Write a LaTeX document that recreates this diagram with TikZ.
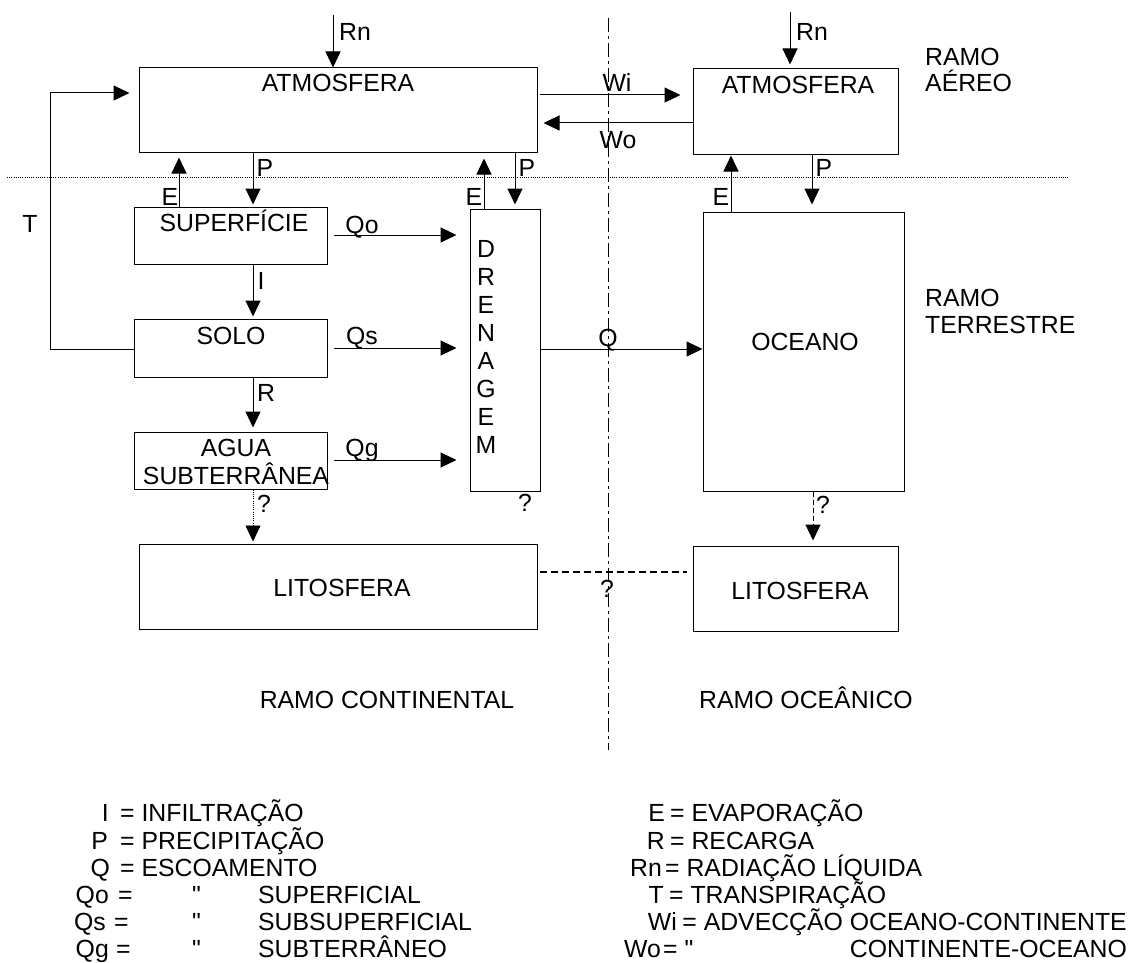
\documentclass[tikz,border=0pt]{standalone}
\usepackage{fontspec}
\setmainfont{Liberation Sans}[Ligatures=TeXOff]
\usetikzlibrary{arrows.meta}
\newcommand\fsz{\fontsize{24.8}{28}\selectfont}
\begin{document}
\begin{tikzpicture}[x=1pt,y=-1pt,
  box/.style={draw, line width=1pt, inner sep=0pt},
  t/.style={inner sep=0pt, anchor=base, font=\fsz},
  tw/.style={inner sep=0pt, anchor=base west, font=\fsz},
  te/.style={inner sep=0pt, anchor=base east, font=\fsz},
  ln/.style={line width=1pt},
  arr/.style={line width=1pt, -{Triangle[length=16pt,width=15pt]}},
  dotline/.style={line width=0.8pt, dash pattern=on 1pt off 1.2pt},
  dashline/.style={line width=1.2pt, dash pattern=on 7pt off 4pt},
  shortdash/.style={line width=1pt, dash pattern=on 5pt off 3pt},
  dashdot/.style={line width=1pt, dash pattern=on 14pt off 4pt on 3pt off 4pt}]
\useasboundingbox (0,0) rectangle (1129,963);

% boxes
\node[box, minimum width=398pt, minimum height=84pt] (atm1) at (338,110) {};
\node[box, minimum width=205pt, minimum height=85pt] (atm2) at (795.5,111.5) {};
\node[box, minimum width=193pt, minimum height=57pt] (sup) at (230.5,235.5) {};
\node[box, minimum width=193pt, minimum height=58pt] (solo) at (230.5,348) {};
\node[box, minimum width=193pt, minimum height=57pt] (agua) at (230.5,460.5) {};
\node[box, minimum width=70pt, minimum height=282pt] (dren) at (505,350) {};
\node[box, minimum width=201pt, minimum height=279pt] (ocea) at (803.5,351.5) {};
\node[box, minimum width=398pt, minimum height=85pt] (lito1) at (338,586.5) {};
\node[box, minimum width=205pt, minimum height=85pt] (lito2) at (795.5,588.5) {};

% box texts
\node[t] (atm1t) at (338,92) {ATMOSFERA};
\node[t] (atm2t) at (798,94) {ATMOSFERA};
\node[t] (supt) at (234,231) {SUPERFÍCIE};
\node[t] (solot) at (231,344) {SOLO};
\node[t] (agua1) at (236,456) {AGUA};
\node[t] (agua2) at (236,484) {SUBTERRÂNEA};
\node[t] (d1) at (486,257) {D};
\node[t] (d2) at (486,285) {R};
\node[t] (d3) at (486,313) {E};
\node[t] (d4) at (486,341) {N};
\node[t] (d5) at (486,369) {A};
\node[t] (d6) at (486,397) {G};
\node[t] (d7) at (486,425) {E};
\node[t] (d8) at (486,453) {M};
\node[t] (oceat) at (805,350) {OCEANO};
\node[t] (lito1t) at (342,596) {LITOSFERA};
\node[t] (lito2t) at (800,599) {LITOSFERA};

% region labels
\node[tw] (aer1) at (925,66) {RAMO};
\node[tw] (aer2) at (925,92) {AÉREO};
\node[tw] (ter1) at (925,306) {RAMO};
\node[tw] (ter2) at (925,333) {TERRESTRE};
\node[t] (cont) at (387,708) {RAMO CONTINENTAL};
\node[t] (oce) at (806,708) {RAMO OCEÂNICO};

% helper coordinates
\coordinate (xP1) at (253,0);
\coordinate (xE1) at (179,0);
\coordinate (xE2) at (484,0);
\coordinate (xP2) at (515,0);
\coordinate (xE3) at (731,0);
\coordinate (xP3) at (812,0);
\coordinate (xT) at (50,0);
\coordinate (xOq) at (813,0);
\coordinate (yWi) at (0,95);
\coordinate (yWo) at (0,123);
\coordinate (yT) at (0,93);
\coordinate (yQo) at (0,235);
\coordinate (yQs) at (0,348);
\coordinate (yQ) at (0,349);
\coordinate (yQg) at (0,460);
\coordinate (yLd) at (0,572);
\coordinate (rn1) at (333,15);
\coordinate (rn2) at (790,12);
\coordinate (dl) at (7,177);
\coordinate (dr) at (1068,177);
\coordinate (dt) at (608,18);
\coordinate (db) at (608,750);

% separators
\draw[dotline] (dl) -- (dr);
\draw[dashdot] (dt) -- (db);

% connectors
\draw[arr] (rn1) -- (rn1 |- atm1.north);
\draw[arr, shorten >=4pt] (rn2) -- (rn2 |- atm2.north);
\draw[arr, shorten <=2pt, shorten >=12pt] (atm1.east |- yWi) -- (atm2.west |- yWi);
\draw[arr, shorten >=6pt] (atm2.west |- yWo) -- (atm1.east |- yWo);
\draw[arr, shorten >=2pt] (atm1.south -| xP1) -- (sup.north -| xP1);
\draw[arr, shorten >=5pt] (sup.north -| xE1) -- (atm1.south -| xE1);
\draw[arr, shorten >=4pt] (atm1.south -| xP2) -- (dren.north -| xP2);
\draw[arr, shorten >=6pt] (dren.north -| xE2) -- (atm1.south -| xE2);
\draw[arr, shorten >=1pt] (ocea.north -| xE3) -- (atm2.south -| xE3);
\draw[arr, shorten >=7pt] (atm2.south -| xP3) -- (ocea.north -| xP3);
\draw[arr, shorten <=6pt, shorten >=13pt] (sup.east |- yQo) -- (dren.west |- yQo);
\draw[arr, shorten <=6pt, shorten >=13pt] (solo.east |- yQs) -- (dren.west |- yQs);
\draw[arr, shorten <=6pt, shorten >=13pt] (agua.east |- yQg) -- (dren.west |- yQg);
\draw[arr] (dren.east |- yQ) -- (ocea.west |- yQ);
\draw[arr, shorten >=2pt] (sup.south -| xP1) -- (solo.north -| xP1);
\draw[arr, shorten >=4pt] (solo.south -| xP1) -- (agua.north -| xP1);
\draw[arr, dotline, shorten >=2pt] (agua.south -| xP1) -- (lito1.north -| xP1);
\draw[arr, shortdash, shorten >=5pt] (ocea.south -| xOq) -- (lito2.north -| xOq);
\draw[dashline, shorten <=2pt, shorten >=6pt] (lito1.east |- yLd) -- (lito2.west |- yLd);
\draw[arr, shorten >=9pt] (solo.west |- yQ) -- (xT |- yQ) -- (xT |- yT) -- (atm1.west |- yT);

% connector labels
\node[tw] (rn1l) at (339,41) {Rn};
\node[tw] (rn2l) at (796,41) {Rn};
\node[t] (wil) at (617,92) {Wi};
\node[t] (wol) at (618,148) {Wo};
\node[t] (e1l) at (170,205) {E};
\node[t] (p1l) at (265,176) {P};
\node[t] (e2l) at (474,205) {E};
\node[t] (p2l) at (527,176) {P};
\node[t] (e3l) at (721,205) {E};
\node[t] (p3l) at (824,176) {P};
\node[t] (tl) at (30,232) {T};
\node[t] (qol) at (362,233) {Qo};
\node[t] (qsl) at (362,344) {Qs};
\node[t] (qgl) at (362,456) {Qg};
\node[t] (il) at (261,289) {I};
\node[t] (rl) at (266,401) {R};
\node[t] (ql) at (608,346) {Q};
\node[t] (qm1) at (264,512) {?};
\node[t] (qm2) at (525,511) {?};
\node[t] (qm3) at (823,513) {?};
\node[t] (qm4) at (607,597) {?};

% legend, left
\node[te] (ls1) at (109,821) {I};
\node[tw] (lt1) at (120,821) {= INFILTRAÇÃO};
\node[te] (ls2) at (108,849) {P};
\node[tw] (lt2) at (120,849) {= PRECIPITAÇÃO};
\node[te] (ls3) at (110,876) {Q};
\node[tw] (lt3) at (120,876) {= ESCOAMENTO};
\node[te] (ls4) at (109,903) {Qo};
\node[tw] (le4) at (118,903) {=};
\node[tw] (lq4) at (192,903) {"};
\node[tw] (lt4) at (258,903) {SUPERFICIAL};
\node[te] (ls5) at (106,930) {Qs};
\node[tw] (le5) at (114,930) {=};
\node[tw] (lq5) at (192,930) {"};
\node[tw] (lt5) at (258,930) {SUBSUPERFICIAL};
\node[te] (ls6) at (109,957) {Qg};
\node[tw] (le6) at (116,957) {=};
\node[tw] (lq6) at (192,957) {"};
\node[tw] (lt6) at (258,957) {SUBTERRÂNEO};

% legend, right
\node[te] (rs1) at (665,821) {E};
\node[tw] (rt1) at (670,821) {= EVAPORAÇÃO};
\node[te] (rs2) at (665,849) {R};
\node[tw] (rt2) at (670,849) {= RECARGA};
\node[te] (rs3) at (662,876) {Rn};
\node[tw] (rt3) at (665,876) {= RADIAÇÃO LÍQUIDA};
\node[te] (rs4) at (664,903) {T};
\node[tw] (rt4) at (669,903) {= TRANSPIRAÇÃO};
\node[te] (rs5) at (677,930) {Wi};
\node[te] (rt5) at (1127,930) {= ADVECÇÃO OCEANO-CONTINENTE};
\node[te] (rs6) at (661,957) {Wo};
\node[tw] (rq6) at (663,957) {= "};
\node[te] (rt6) at (1127,957) {CONTINENTE-OCEANO};
\end{tikzpicture}
\end{document}
